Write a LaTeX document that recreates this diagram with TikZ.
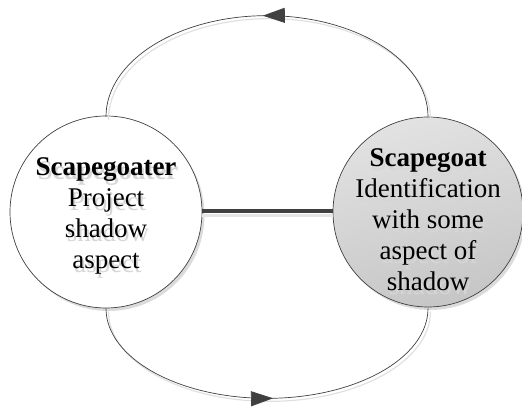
\documentclass[tikz,border=0pt]{standalone}
\usepackage{fontspec}
\setmainfont{Liberation Serif}
\usetikzlibrary{arrows.meta,decorations.markings,shadows}
\definecolor{linegray}{HTML}{404040}
\definecolor{goatlight}{HTML}{E2E2E2}
\definecolor{goatdark}{HTML}{C6C6C6}
\tikzset{
  bubble/.style={circle, draw=linegray, line width=0.7pt, minimum size=#1, inner sep=0pt,
    drop shadow={shadow xshift=2.5pt, shadow yshift=-3pt, fill=black!14, opacity=1}},
  label text/.style={align=center, font=\fontsize{27}{31}\selectfont, inner sep=0pt},
  shadow text/.style={label text, text=black!16},
  loop arc/.style={draw=linegray, line width=0.7pt},
  arc shadow/.style={draw=black!12, line width=1.2pt},
  link/.style={draw=linegray, line width=4pt},
  link shadow/.style={draw=black!10, line width=3pt},
  headmark/.style={postaction={decorate, decoration={markings,
    mark=at position #1 with {\arrow[linegray]{Triangle[length=22pt,width=15pt]}}}}}
}
\begin{document}
\begin{tikzpicture}[x=1pt, y=1pt]
  \useasboundingbox (0,0) rectangle (522,407);

  % the two circles
  \node[bubble=192pt, fill=white] (L) at (106,195) {};
  \node[bubble=190pt, shading=axis, top color=goatlight, bottom color=goatdark, shading angle=15] (R) at (428,195) {};

  % link between them
  \draw[link shadow] ([yshift=-4pt]L.east) -- ([yshift=-4pt]R.west);
  \draw[link] ([yshift=1pt]L.east) -- ([yshift=1pt]R.west);

  % upper loop, running from right to left
  \draw[arc shadow] ([xshift=2.5pt, yshift=-3pt]R.north) arc[start angle=0, end angle=180, x radius=161, y radius=101];
  \draw[loop arc, headmark=0.51] (R.north) arc[start angle=0, end angle=180, x radius=161, y radius=101];

  % lower loop, running from left to right
  \draw[arc shadow] ([xshift=2.5pt, yshift=-3pt]L.south) arc[start angle=180, end angle=360, x radius=161, y radius=90];
  \draw[loop arc, headmark=0.515] (L.south) arc[start angle=180, end angle=360, x radius=161, y radius=90];

  % texts with their soft shadows
  \node[shadow text] (Lsh) at ([xshift=2pt, yshift=-7.5pt]L.center) {\textbf{Scapegoater}\\Project\\shadow\\aspect};
  \node[label text] (Ltxt) at ([yshift=-4pt]L.center) {\textbf{Scapegoater}\\Project\\shadow\\aspect};

  \node[shadow text] (Rsh) at ([xshift=2pt, yshift=-11.5pt]R.center) {\textbf{Scapegoat}\\Identification\\with some\\aspect of\\shadow};
  \node[label text] (Rtxt) at ([yshift=-8pt]R.center) {\textbf{Scapegoat}\\Identification\\with some\\aspect of\\shadow};
\end{tikzpicture}
\end{document}
